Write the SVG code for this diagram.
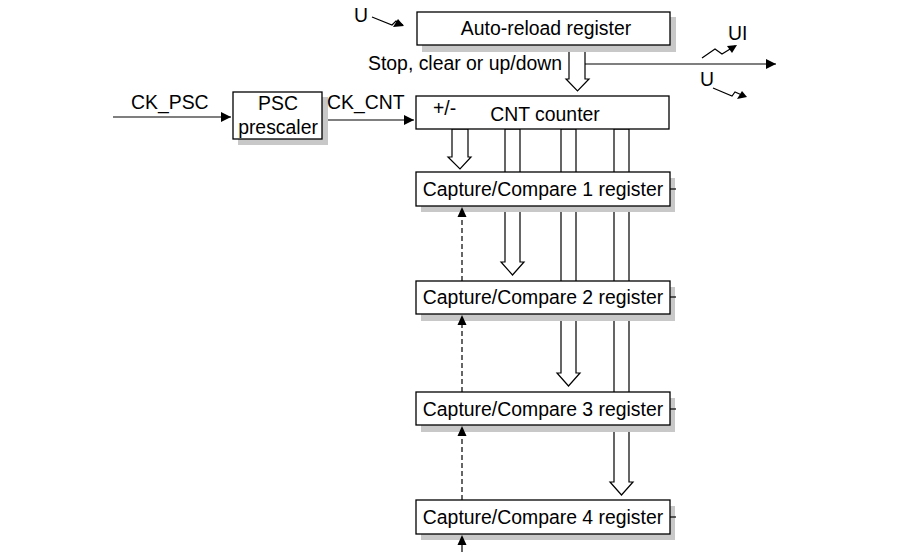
<svg xmlns="http://www.w3.org/2000/svg" width="923" height="552" viewBox="0 0 923 552">
<defs>
<style>
text{font-family:"Liberation Sans",Arial,sans-serif;font-size:19.4px;fill:#000}
.box{fill:#fff;stroke:#000;stroke-width:1.3}
.sh{fill:#c8c8c8;stroke:none}
.ln{stroke:#000;stroke-width:1.2;fill:none}
.pipe{fill:#fff;stroke:#000;stroke-width:1.2}
.dash{stroke:#000;stroke-width:1.2;stroke-dasharray:5,3;fill:none}
</style>
<marker id="ah" viewBox="0 0 10 10" refX="10" refY="5" markerWidth="10" markerHeight="10" markerUnits="userSpaceOnUse" orient="auto">
<path d="M0,0 L10,5 L0,10 z" fill="#000"/>
</marker>
</defs>
<rect width="923" height="552" fill="#fff"/>

<g id="connectors">
<line class="ln" x1="113" y1="117" x2="231" y2="117" marker-end="url(#ah)"/>
<line class="ln" x1="322" y1="120" x2="414" y2="120" marker-end="url(#ah)"/>
<line class="ln" x1="585" y1="64" x2="776" y2="64" marker-end="url(#ah)"/>
<!-- lightning arrows -->
<path class="ln" d="M372,17 L392,25 L396,21 L403,25"/>
<path d="M404,26 L393,27 L398,19 z" fill="#000"/>
<path class="ln" d="M702,58 L715,49 L722,54 L735,46"/>
<path d="M737,45 L727,46 L732,53 z" fill="#000"/>
<path class="ln" d="M713,88 L732,96 L735,92 L744,96"/>
<path d="M747,97 L737,99 L742,91 z" fill="#000"/>
<!-- fat arrow auto-reload -> CNT -->
<path class="pipe" d="M569,45 L569,79 L566,79 L577.5,91 L589,79 L585,79 L585,45 z"/>
<!-- pipes from CNT -->
<path class="pipe" d="M452,129 L452,157 L448,157 L460,169 L471,157 L468,157 L468,129 z"/>
<path class="pipe" d="M505,129 L505,262 L501,262 L512.5,275 L524,262 L520,262 L520,129 z"/>
<path class="pipe" d="M561,129 L561,373 L557,373 L568.5,386 L580,373 L576,373 L576,129 z"/>
<path class="pipe" d="M614,129 L614,482 L610,482 L621.5,495 L633,482 L629,482 L629,129 z"/>
</g>

<g id="auto-reload">
<rect class="sh" x="422" y="17" width="254" height="35"/>
<rect class="box" x="417" y="12" width="253" height="33"/>
<text x="546" y="35" text-anchor="middle">Auto-reload register</text>
</g>
<g id="psc">
<rect class="sh" x="238" y="97" width="90" height="48"/>
<rect class="box" x="233" y="92" width="89" height="47"/>
<text x="278" y="110" text-anchor="middle">PSC</text>
<text x="278" y="134" text-anchor="middle">prescaler</text>
</g>
<g id="cnt">
<rect class="box" x="416" y="96" width="253" height="33"/>
<text x="433" y="115">+/-</text>
<text x="545" y="121" text-anchor="middle">CNT counter</text>
</g>
<g id="cc1">
<rect class="sh" x="421" y="178" width="254" height="34"/>
<rect class="box" x="416" y="172" width="254" height="34"/>
<text x="543" y="196" text-anchor="middle">Capture/Compare 1 register</text>
</g>
<g id="cc2">
<rect class="sh" x="421" y="287" width="254" height="34"/>
<rect class="box" x="416" y="281" width="254" height="33"/>
<text x="543" y="304" text-anchor="middle">Capture/Compare 2 register</text>
</g>
<g id="cc3">
<rect class="sh" x="421" y="398" width="254" height="34"/>
<rect class="box" x="416" y="392" width="254" height="33"/>
<text x="543" y="416" text-anchor="middle">Capture/Compare 3 register</text>
</g>
<g id="cc4">
<rect class="sh" x="421" y="506" width="254" height="34"/>
<rect class="box" x="416" y="500" width="254" height="34"/>
<text x="543" y="524" text-anchor="middle">Capture/Compare 4 register</text>
</g>

<g id="capture-connectors">
<line class="dash" x1="462" y1="281" x2="462" y2="216"/>
<path d="M462,207 L457.5,217 L466.5,217 z" fill="#000"/>
<line class="dash" x1="462" y1="392" x2="462" y2="324"/>
<path d="M462,315 L457.5,325 L466.5,325 z" fill="#000"/>
<line class="dash" x1="462" y1="500" x2="462" y2="435"/>
<path d="M462,426 L457.5,436 L466.5,436 z" fill="#000"/>
<line class="ln" x1="462" y1="552" x2="462" y2="544"/>
<path d="M462,535 L457.5,545 L466.5,545 z" fill="#000"/>
<line class="ln" x1="670" y1="189" x2="676" y2="189"/>
<line class="ln" x1="670" y1="297" x2="676" y2="297"/>
<line class="ln" x1="670" y1="409" x2="676" y2="409"/>
<line class="ln" x1="670" y1="517" x2="676" y2="517"/>
</g>

<g id="labels">
<text x="354" y="22">U</text>
<text x="368" y="70">Stop, clear or up/down</text>
<text x="728" y="40">UI</text>
<text x="700" y="86">U</text>
<text x="131" y="109">CK_PSC</text>
<text x="327" y="109">CK_CNT</text>
</g>
</svg>
